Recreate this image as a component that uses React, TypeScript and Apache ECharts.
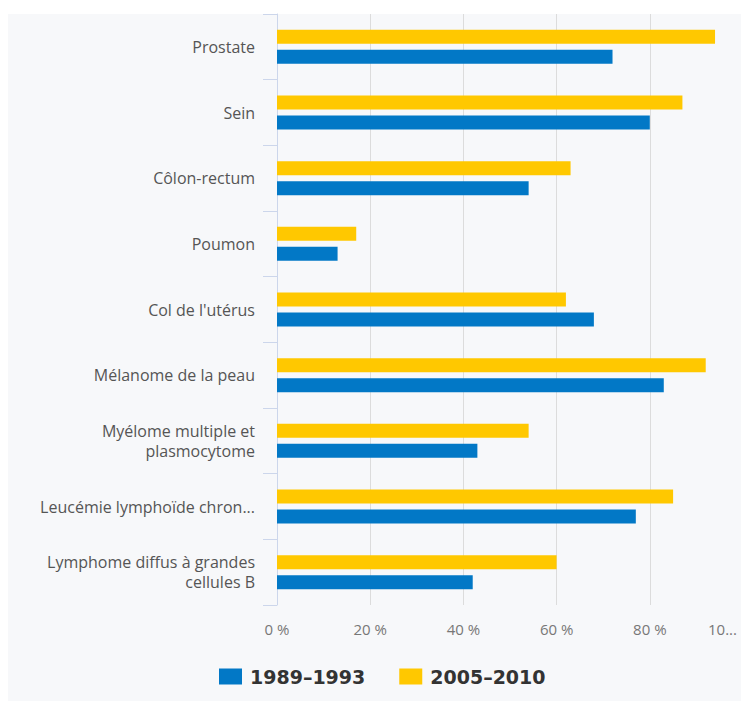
import React, { useEffect, useRef } from "react";
import * as echarts from "echarts";

const categories = [
  "Prostate",
  "Sein",
  "Côlon-rectum",
  "Poumon",
  "Col de l'utérus",
  "Mélanome de la peau",
  "Myélome multiple et\nplasmocytome",
  "Leucémie lymphoïde chron...",
  "Lymphome diffus à grandes\ncellules B",
];
const series1989 = [72, 80, 54, 13, 68, 83, 43, 77, 42];
const series2005 = [94, 87, 63, 17, 62, 92, 54, 85, 60];
const seriesNames = ["1989–1993", "2005–2010"];
const xTicks = [0, 20, 40, 60, 80, 100];

export default function App() {
  const ref = useRef<HTMLDivElement>(null);
  useEffect(() => {
    if (!ref.current) return;
    const chart = echarts.init(ref.current, undefined, { renderer: "svg" });
    chart.setOption({
      animation: false,
      backgroundColor: "#ffffff",
      textStyle: { fontFamily: "Open Sans" },
      graphic: [
        {
          type: "rect",
          z: -10,
          silent: true,
          shape: { x: 8, y: 14, width: 733, height: 687 },
          style: { fill: "#f7f8fa" },
        },
      ],
      legend: {
        data: seriesNames,
        left: 219,
        top: 667,
        padding: 0,
        itemWidth: 23,
        itemHeight: 16,
        itemGap: 34,
        icon: "rect",
        textStyle: {
          fontSize: 19,
          fontWeight: "bold",
          color: "#333",
          fontFamily: "DejaVu Sans",
          padding: [0, 0, 0, 3],
        },
      },
      grid: {
        left: 277,
        top: 14,
        width: 466,
        height: 591,
        containLabel: false,
        outerBoundsMode: "none",
      },
      xAxis: {
        type: "value",
        min: xTicks[0],
        max: xTicks[xTicks.length - 1],
        interval: 20,
        axisLine: { show: false },
        axisTick: { show: false },
        splitLine: { show: true, lineStyle: { color: "#dcdcdc", width: 1 } },
        axisLabel: {
          margin: 16,
          color: "#777",
          fontSize: 15,
          alignMaxLabel: "right",
          formatter: (v: number) => (v === 100 ? "{e|10...}" : v + " %"),
          rich: {
            e: { fontSize: 15, color: "#777", padding: [0, 6, 0, 0] },
          },
        },
      },
      yAxis: {
        type: "category",
        data: categories,
        inverse: true,
        axisLine: { show: true, lineStyle: { color: "#ccd6eb" } },
        axisTick: { show: true, length: 14, lineStyle: { color: "#ccd6eb" } },
        axisLabel: { margin: 22, color: "#555", fontSize: 16, lineHeight: 20, align: "right" },
      },
      series: [
        {
          name: seriesNames[1],
          type: "bar",
          data: series2005,
          barWidth: 14,
          barGap: "43%",
          itemStyle: { color: "#ffc800" },
        },
        {
          name: seriesNames[0],
          type: "bar",
          data: series1989,
          barWidth: 14,
          barGap: "43%",
          itemStyle: { color: "#0278c6" },
        },
      ],
    });
    return () => chart.dispose();
  }, []);
  return (
    <div
      ref={ref}
      style={{ position: "absolute", left: 0, top: 0, width: 741, height: 701 }}
    />
  );
}
